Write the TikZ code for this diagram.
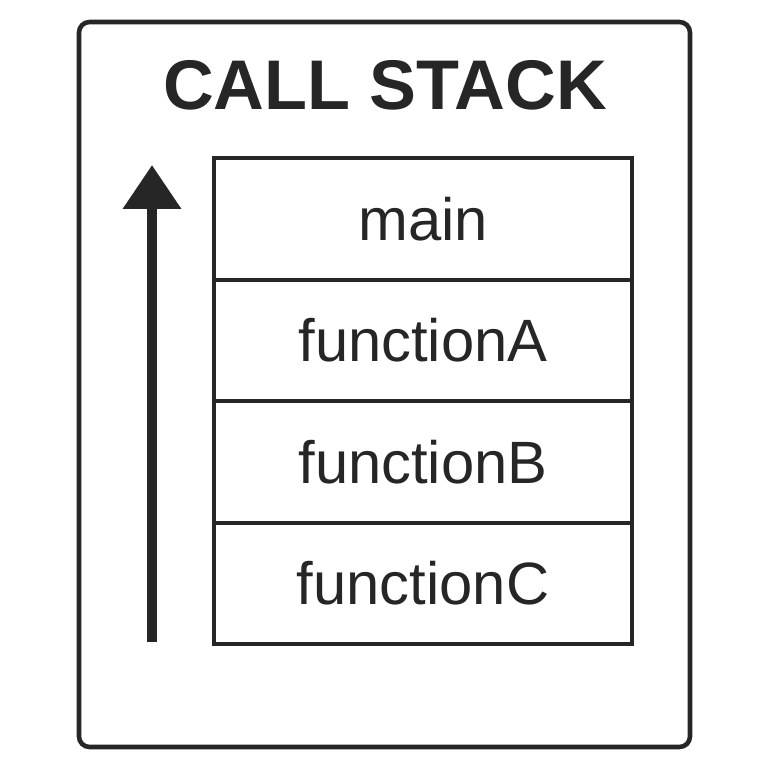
\documentclass[tikz,border=0pt]{standalone}
\usepackage{fontspec}
\setmainfont{Liberation Sans}
\usetikzlibrary{positioning,arrows.meta}
\definecolor{ink}{HTML}{262626}

\begin{document}
\begin{tikzpicture}[>={Triangle[width=5.6mm, length=4.4mm]},
      cell/.style={draw=ink, line width=1.1pt, minimum width=4.18cm, minimum height=1.215cm,
                   inner sep=0pt, outer sep=0pt, font=\fontsize{17}{20}\selectfont, text=ink}]
    \useasboundingbox (0,0) rectangle (7.68,7.68);
    \node[draw=ink, line width=1.3pt, rounded corners=3pt, minimum width=6.11cm,
          minimum height=7.25cm] (frame) at (3.845,3.835) {};
    \node[anchor=base, font=\fontsize{20}{24}\selectfont\bfseries, text=ink] (title) at (3.85,6.58) {CALL STACK};
    \node[cell] (main) at (4.23,5.49) {main};
    \node[cell, below=0pt of main] (fa) {functionA};
    \node[cell, below=0pt of fa] (fb) {functionB};
    \node[cell, below=0pt of fb] (fc) {functionC};
    \coordinate (bottom) at (1.52,1.26);
    \coordinate (top) at (1.52,6.03);
    \draw[->, ink, line width=2.9pt] (bottom) -- (top);
\end{tikzpicture}
\end{document}
